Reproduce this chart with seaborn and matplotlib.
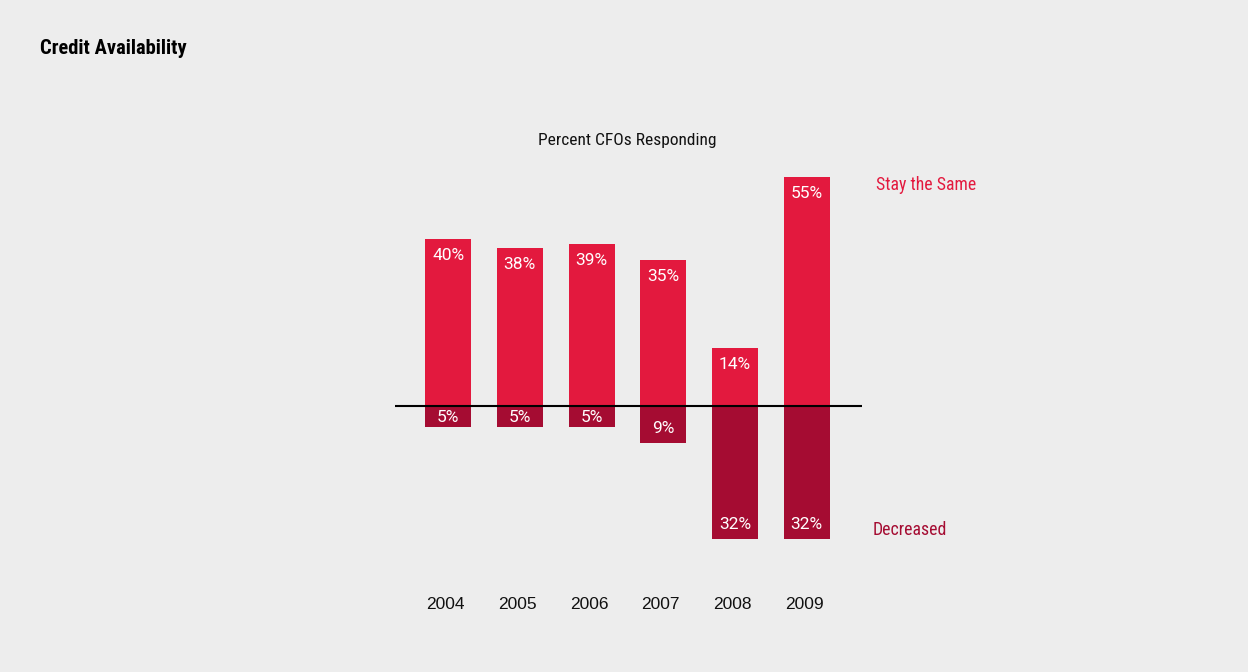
import matplotlib
matplotlib.use("Agg")
import matplotlib.pyplot as plt
from matplotlib import font_manager
from matplotlib.font_manager import FontProperties
import seaborn as sns
import pandas as pd

years = ["2004", "2005", "2006", "2007", "2008", "2009"]
stay_same = [40, 38, 39, 35, 14, 55]
decreased = [5, 5, 5, 9, 32, 32]

title = "Credit Availability"
subtitle = "Percent CFOs Responding"
label_stay = "Stay the Same"
label_decr = "Decreased"

BG = "#ededed"
RED = "#e3193e"
DARK = "#a50c32"

sns.set_theme(style="white")
plt.rcParams["font.family"] = ["Liberation Sans", "DejaVu Sans"]


def narrow_font(bold=False):
    """Return a FontProperties for a condensed face, or None if none exists."""
    prefs = ["Liberation Sans Narrow", "Roboto Condensed", "Noto Sans",
             "Open Sans", "DejaVu Sans"]
    found = []
    for f in font_manager.fontManager.ttflist:
        cond = ("Narrow" in f.name or "Condensed" in f.name
                or str(f.stretch) in ("condensed", "semi-condensed", "extra-condensed")
                or "Condensed" in f.fname or "Narrow" in f.fname)
        if not cond or f.style != "normal":
            continue
        w = f.weight if isinstance(f.weight, int) else (700 if f.weight == "bold" else 400)
        if bold != (w >= 600):
            continue
        if "Light" in f.fname or "Thin" in f.fname or "Black" in f.fname or "Semi" in f.fname:
            continue
        rank = next((i for i, p in enumerate(prefs) if f.name.startswith(p)), len(prefs))
        found.append((rank, f.fname))
    if not found:
        return None
    return FontProperties(fname=sorted(found)[0][1])


reg = narrow_font(False)
bld = narrow_font(True)


def cond_props(size, bold=False, fallback_scale=0.88):
    fp = bld if bold else reg
    if fp is not None:
        p = fp.copy()
        p.set_size(size)
        return p
    return FontProperties(family="Liberation Sans", size=size * fallback_scale,
                          weight="bold" if bold else "normal")


value_font = FontProperties(family=["Roboto", "Liberation Sans"], size=12.5)

W, H = 1248, 672
fig = plt.figure(figsize=(W / 100, H / 100), dpi=100, facecolor=BG)

# axes spans the baseline width; vertical extent maps -32..55
y_lo, y_hi = -32, 55
px_top, px_bot = 177, 539
ax = fig.add_axes([395 / W, 1 - px_bot / H, 467 / W, (px_bot - px_top) / H])
ax.set_facecolor(BG)

df = pd.DataFrame({"year": years, "stay": stay_same, "decr": [-d for d in decreased]})
sns.barplot(data=df, x="year", y="stay", color=RED, width=0.64, saturation=1,
            ax=ax, edgecolor="none")
sns.barplot(data=df, x="year", y="decr", color=DARK, width=0.64, saturation=1,
            ax=ax, edgecolor="none")

ax.set_xlim(-0.74, 5.77)
ax.set_ylim(y_lo, y_hi)
ax.axhline(0, color="black", lw=1.5, zorder=5)
for s in ax.spines.values():
    s.set_visible(False)
ax.set_xticks([])
ax.set_yticks([])
ax.set_xlabel("")
ax.set_ylabel("")

px_per_unit = (px_bot - px_top) / (y_hi - y_lo)
inset_pos = 16.5 / px_per_unit
inset_neg = 14.5 / px_per_unit
for i, (s, d) in enumerate(zip(stay_same, decreased)):
    ax.text(i, s - min(inset_pos, s / 2), f"{s}%", ha="center", va="center",
            color="white", fontproperties=value_font)
    ax.text(i, -d + min(inset_neg, d * 0.42), f"{d}%", ha="center", va="center",
            color="white", fontproperties=value_font)
    ax.text(i - 0.035, -47.8, years[i], ha="center", va="center",
            color="#111111", fontsize=12.5, clip_on=False)

fig.text(40 / W, 1 - 48 / H, title, ha="left", va="center",
         fontproperties=cond_props(14.8, bold=True, fallback_scale=0.95), color="black")
fig.text(627 / W, 1 - 140 / H, subtitle, ha="center", va="center",
         fontproperties=cond_props(12.5), color="#111111")
fig.text(876 / W, 1 - 185 / H, label_stay, ha="left", va="center",
         fontproperties=cond_props(12.8), color=RED)
fig.text(873 / W, 1 - 530 / H, label_decr, ha="left", va="center",
         fontproperties=cond_props(12.8), color=DARK)

fig.savefig("out.png", dpi=100, facecolor=BG)
